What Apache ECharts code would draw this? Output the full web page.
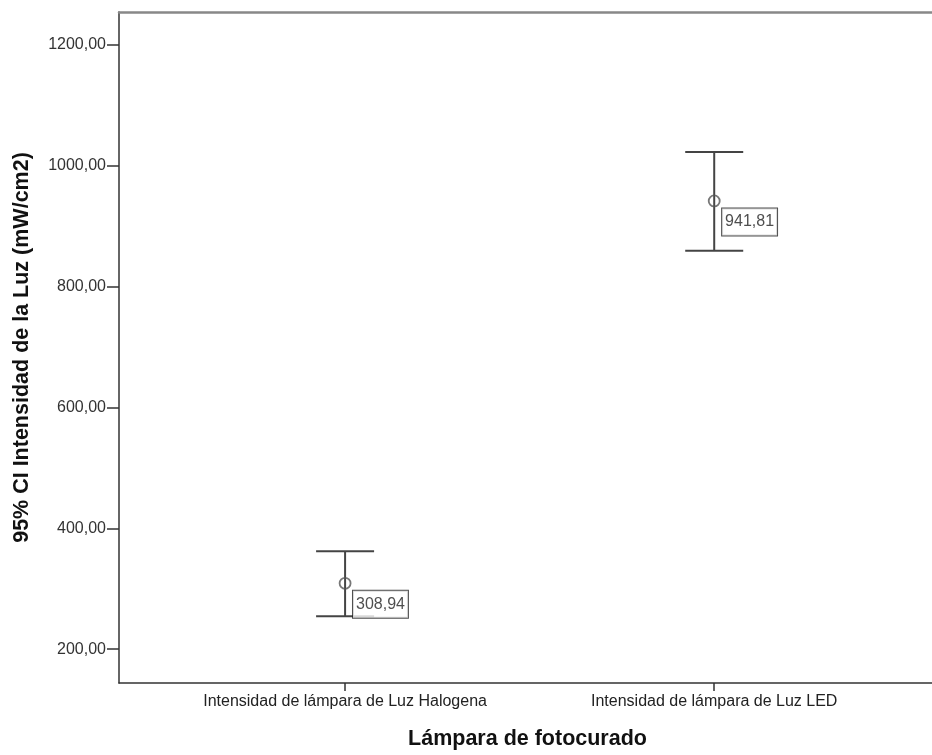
<!DOCTYPE html>
<html>
<head>
<meta charset="utf-8">
<script src="https://cdn.jsdelivr.net/npm/echarts@6/dist/echarts.min.js"></script>
<style>
  html, body { margin: 0; padding: 0; background: #fff; }
  #main { width: 932px; height: 755px; }
</style>
</head>
<body>
<div id="main"></div>
<script>
// datos
let categories = ['Intensidad de lámpara de Luz Halogena', 'Intensidad de lámpara de Luz LED']
let means = [308.94, 941.81]
let lower = [254.5, 859.5]
let upper = [362, 1023]
let yTicks = [200, 400, 600, 800, 1000, 1200]

let fmt = function (v) {
    return v.toFixed(2).replace('.', ',')
}

let barData = categories.map(function (c, i) {
    return [i + 1, lower[i], upper[i]]
})
let meanData = categories.map(function (c, i) {
    return [i + 1, means[i]]
})

let myChart = echarts.init(document.getElementById('main'))
myChart.setOption({
    animation: false,
    grid: { left: 119, right: 0, top: 12, bottom: 71 },
    xAxis: [
        {
            type: 'value',
            min: 0.3875,
            max: 2.59,
            splitLine: { show: false },
            axisLine: { lineStyle: { color: '#333', width: 1.5 } },
            axisTick: { show: true, length: 8, customValues: [1, 2], lineStyle: { color: '#333', width: 1.5 } },
            axisLabel: {
                customValues: [1, 2],
                margin: 11,
                color: '#222',
                fontFamily: 'Liberation Sans',
                fontSize: 16,
                formatter: function (v) { return categories[Math.round(v) - 1] }
            },
            name: 'Lámpara de fotocurado',
            nameLocation: 'middle',
            nameGap: 45,
            nameTextStyle: { fontFamily: 'Liberation Sans', fontWeight: 'bold', fontSize: 21.5, color: '#111', padding: [0, 0, 0, 4] }
        },
        {
            type: 'value',
            position: 'top',
            min: 0, max: 1,
            axisLine: { lineStyle: { color: '#888', width: 2.5 } },
            axisTick: { show: false },
            axisLabel: { show: false },
            splitLine: { show: false }
        }
    ],
    yAxis: {
        type: 'value',
        min: 144,
        max: 1254.5,
        splitLine: { show: false },
        axisLine: { show: true, lineStyle: { color: '#333', width: 1.5 } },
        axisTick: { show: true, length: 12, customValues: yTicks, lineStyle: { color: '#333', width: 1.5 } },
        axisLabel: {
            customValues: yTicks,
            margin: 13,
            color: '#333',
            fontFamily: 'Liberation Sans',
            fontSize: 16,
            formatter: fmt
        },
        name: '95% CI Intensidad de la Luz (mW/cm2)',
        nameLocation: 'middle',
        nameGap: 86,
        nameTextStyle: { fontFamily: 'Liberation Sans', fontWeight: 'bold', fontSize: 21.5, color: '#111' }
    },
    series: [
        {
            type: 'custom',
            data: barData,
            renderItem: function (params, api) {
                let x = api.value(0)
                let lo = api.coord([x, api.value(1)])
                let hi = api.coord([x, api.value(2)])
                let w = 29
                let style = { stroke: '#444', lineWidth: 2 }
                return {
                    type: 'group',
                    children: [
                        { type: 'line', shape: { x1: lo[0], y1: lo[1], x2: hi[0], y2: hi[1] }, style: style },
                        { type: 'line', shape: { x1: lo[0] - w, y1: lo[1], x2: lo[0] + w, y2: lo[1] }, style: style },
                        { type: 'line', shape: { x1: hi[0] - w, y1: hi[1], x2: hi[0] + w, y2: hi[1] }, style: style }
                    ]
                }
            }
        },
        {
            type: 'scatter',
            data: meanData,
            symbol: 'circle',
            symbolSize: 11,
            itemStyle: { color: 'rgba(255,255,255,0)', borderColor: '#555', borderWidth: 1.8 },
            label: {
                show: true,
                position: 'right',
                distance: 1.5,
                offset: [0, 21],
                formatter: function (p) { return fmt(p.value[1]) },
                fontFamily: 'Liberation Sans',
                fontSize: 16,
                lineHeight: 18,
                color: '#222',
                backgroundColor: '#fff',
                borderColor: '#222',
                borderWidth: 1,
                padding: [5, 3, 4, 3]
            }
        }
    ]
})
</script>
</body>
</html>
